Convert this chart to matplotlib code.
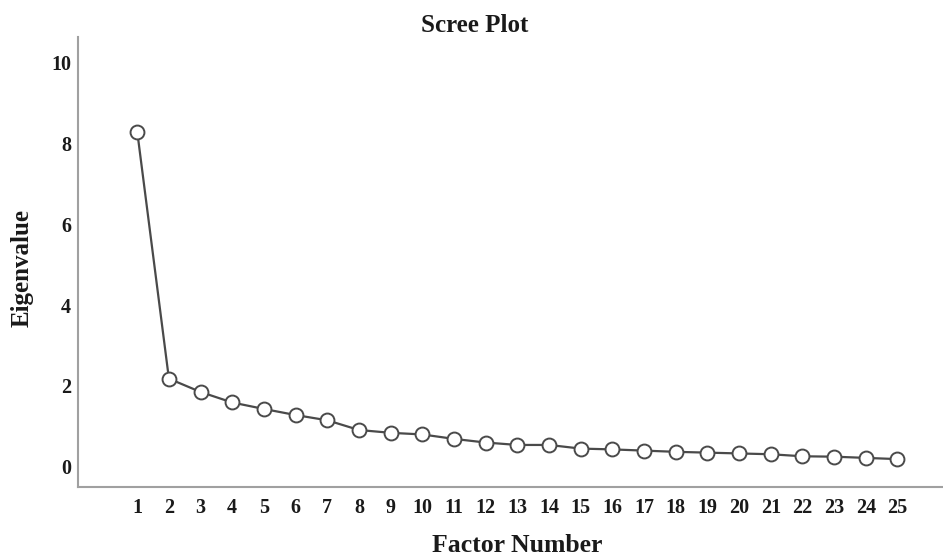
"""
Scree plot: eigenvalue per extracted factor.
Generates out.png in the working folder.
"""

import matplotlib
matplotlib.use("Agg")
import matplotlib.pyplot as plt

# ── Data ──────────────────────────────────────────────────────────────────────

factors = list(range(1, 26))
eigenvalues = [8.29, 2.18, 1.85, 1.59, 1.43, 1.28, 1.15, 0.91, 0.84, 0.80,
               0.69, 0.60, 0.54, 0.54, 0.45, 0.43, 0.40, 0.37, 0.35, 0.33,
               0.31, 0.26, 0.25, 0.22, 0.19]
y_ticks = [0, 2, 4, 6, 8, 10]

# ── Style ─────────────────────────────────────────────────────────────────────

W, H = 943, 558
SERIF = ["Liberation Serif", "DejaVu Serif"]
LINE = "#4a4a4a"
SPINE = "#a0a0a0"
TEXT = "#1a1a1a"

fig = plt.figure(figsize=(W / 100, H / 100), dpi=100)
fig.patch.set_facecolor("white")

# axes box in pixel terms: left spine x=78, bottom spine y=487, top y=37
ax = fig.add_axes([78 / W, (H - 487) / H, 1 - 78 / W, (487 - 37) / H])

ax.plot(factors, eigenvalues, color=LINE, lw=1.6, marker="o",
        markersize=10, markerfacecolor="white", markeredgecolor=LINE,
        markeredgewidth=1.4, zorder=3)

ax.set_xlim(-0.87, 26.44)
ax.set_ylim(-0.5, 10.63)
ax.set_xticks(factors)
ax.set_yticks(y_ticks)
ax.tick_params(length=0, labelsize=14.5, colors=TEXT, pad=8)
ax.tick_params(axis="y", pad=5)
for lbl in ax.get_xticklabels() + ax.get_yticklabels():
    lbl.set_fontfamily(SERIF)
    lbl.set_fontweight("bold")

for side in ("top", "right"):
    ax.spines[side].set_visible(False)
for side in ("left", "bottom"):
    ax.spines[side].set_color(SPINE)
    ax.spines[side].set_linewidth(1.5)

fig.text(475 / W, 1 - 25 / H, "Scree Plot", ha="center", va="center",
         fontsize=18, fontweight="bold", family=SERIF, color=TEXT)
fig.text(517 / W, 1 - 546 / H, "Factor Number", ha="center", va="center",
         fontsize=18.5, fontweight="bold", family=SERIF, color=TEXT)
fig.text(22 / W, 1 - 268 / H, "Eigenvalue", ha="center", va="center",
         rotation=90, fontsize=18, fontweight="bold", family=SERIF, color=TEXT)

plt.savefig("out.png", dpi=100, facecolor="white")
plt.close(fig)
